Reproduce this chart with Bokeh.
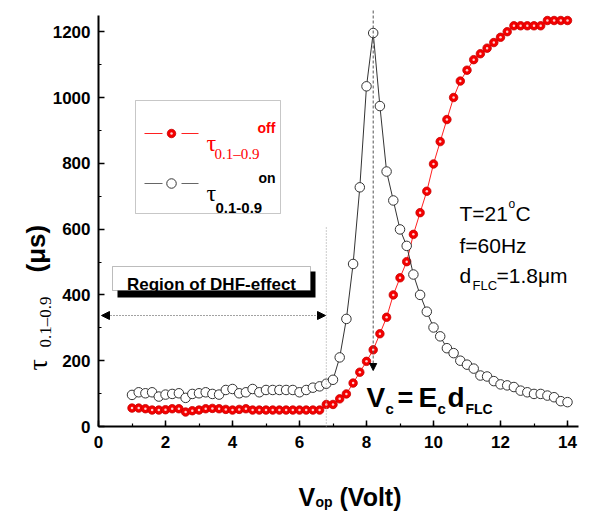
from math import pi
from bokeh.plotting import figure
from bokeh.models import (Label, BoxAnnotation, Arrow, NormalHead,
                          SingleIntervalTicker, Range1d)
from bokeh.embed import file_html
from bokeh.resources import INLINE

# ---------------- data ----------------
volt = [1.0, 1.2, 1.4, 1.6, 1.8, 2.0, 2.2, 2.4, 2.6, 2.8,
        3.0, 3.2, 3.4, 3.6, 3.8, 4.0, 4.2, 4.4, 4.6, 4.8,
        5.0, 5.2, 5.4, 5.6, 5.8, 6.0, 6.2, 6.4, 6.6, 6.8,
        7.0, 7.2, 7.4, 7.6, 7.8, 8.0, 8.2, 8.4, 8.6, 8.8,
        9.0, 9.2, 9.4, 9.6, 9.8, 10.0, 10.2, 10.4, 10.6, 10.8,
        11.0, 11.2, 11.4, 11.6, 11.8, 12.0, 12.2, 12.4, 12.6, 12.8,
        13.0, 13.2, 13.4, 13.6, 13.8, 14.0]

tau_off = [56, 56, 54, 50, 50, 51, 54, 54, 44, 48,
           50, 54, 55, 54, 52, 50, 52, 54, 50, 50,
           50, 50, 50, 50, 50, 50, 50, 50, 50, 67,
           67, 84, 99, 132, 165, 198, 233, 282, 332, 400,
           452, 501, 584, 650, 715, 798, 866, 933, 1000, 1050,
           1083, 1115, 1133, 1150, 1167, 1183, 1200, 1218, 1218, 1218,
           1218, 1218, 1234, 1234, 1234, 1234]

tau_on = [96, 104, 101, 104, 91, 97, 99, 101, 87, 99,
          101, 104, 99, 97, 111, 114, 101, 104, 114, 104,
          111, 111, 111, 111, 111, 104, 111, 118, 122, 130,
          142, 210, 327, 494, 727, 1034, 1196, 974, 775, 687,
          599, 549, 462, 400, 349, 301, 274, 238, 223, 200,
          188, 176, 155, 152, 138, 128, 125, 120, 109, 104,
          99, 99, 94, 89, 77, 74]

x_ticks_interval = 2
y_ticks_interval = 200
x_axis_end = 14.33
y_axis_end = 1250
v_critical = 8.2          # Vc marker
dhf_limit = 6.8           # end of DHF region

# ---------------- geometry (pixel <-> data) ----------------
W, H = 593, 514
OX, OY = 98, 426          # pixel position of data origin
PX_PER_X = 33.5
PX_PER_Y = 0.329

def X(px):
    return (px - OX) / PX_PER_X

def Y(py):
    return (OY - py) / PX_PER_Y

SANS = "Liberation Sans"
SERIF = "Liberation Serif"

p = figure(width=W, height=H, output_backend="svg", toolbar_location=None,
           x_range=Range1d(X(0), X(W)), y_range=Range1d(Y(H), Y(0)),
           min_border=0, min_border_left=0, min_border_right=0,
           min_border_top=0, min_border_bottom=0)
p.outline_line_color = None
p.grid.visible = False
p.background_fill_color = "white"
p.border_fill_color = "white"

p.xaxis.fixed_location = 0
p.yaxis.fixed_location = 0
p.xaxis.bounds = (0, x_axis_end)
p.yaxis.bounds = (0, y_axis_end)
p.xaxis.ticker = SingleIntervalTicker(interval=x_ticks_interval, num_minor_ticks=2)
p.yaxis.ticker = SingleIntervalTicker(interval=y_ticks_interval, num_minor_ticks=2)
for ax in (p.xaxis, p.yaxis):
    ax.axis_line_width = 2
    ax.axis_line_color = "black"
    ax.major_tick_in = 6
    ax.major_tick_out = 0
    ax.minor_tick_in = 3
    ax.minor_tick_out = 0
    ax.major_tick_line_width = 1.5
    ax.minor_tick_line_width = 1.2
    ax.major_tick_line_color = "black"
    ax.minor_tick_line_color = "black"
    ax.major_label_text_font = SANS
    ax.major_label_text_font_style = "bold"
    ax.major_label_text_font_size = "17px"
    ax.major_label_text_color = "black"
p.xaxis.major_label_standoff = 9
p.yaxis.major_label_standoff = 8

# ---------------- helpers ----------------
def txt(s, px, py, size, color="black", font=SANS, style="normal",
        align="left", baseline="alphabetic", angle=0):
    p.add_layout(Label(x=X(px), y=Y(py), text=s, text_font_size=f"{size}px",
                       text_color=color, text_font=font, text_font_style=style,
                       text_align=align, text_baseline=baseline, angle=angle))

# legend box (under glyphs)
p.add_layout(BoxAnnotation(left=X(135), right=X(280), top=Y(100), bottom=Y(213),
                           fill_color="white", fill_alpha=1, line_color="#444",
                           line_width=1, level="underlay"))

# ---------------- reference lines / arrows ----------------
p.add_layout(Arrow(end=None, x_start=dhf_limit, x_end=dhf_limit,
                   y_start=Y(227), y_end=0, line_color="#999",
                   line_width=1, line_dash="1 2"))
p.add_layout(Arrow(start=NormalHead(size=8, fill_color="black", line_color="black"),
                   end=NormalHead(size=8, fill_color="black", line_color="black"),
                   x_start=X(101), x_end=X(325), y_start=Y(315), y_end=Y(315),
                   line_color="#444", line_width=1, line_dash="1 2"))
p.add_layout(Arrow(end=NormalHead(size=7, fill_color="black", line_color="black"),
                   x_start=v_critical, x_end=v_critical, y_start=Y(10), y_end=Y(370),
                   line_color="#555", line_width=1, line_dash="3 2"))

# ---------------- series ----------------
p.line(volt, tau_off, line_color="#ff2020", line_width=1)
p.scatter(volt, tau_off, size=8.5, fill_color="#f40000", line_color="#c80000",
          line_width=0.8)
p.scatter(volt, tau_off, size=2.5, fill_color="#ffd0d0", line_color=None)

p.line(volt, tau_on, line_color="#333333", line_width=1)
p.scatter(volt, tau_on, size=9.5, fill_color="white", line_color="#333333",
          line_width=1)

# ---------------- legend ----------------
ly1, ly2 = Y(133), Y(183)
for (a, b) in ((144, 162), (181, 198)):
    p.add_layout(Arrow(end=None, x_start=X(a), x_end=X(b), y_start=ly1, y_end=ly1,
                       line_color="#ff2020", line_width=1))
    p.add_layout(Arrow(end=None, x_start=X(a), x_end=X(b), y_start=ly2, y_end=ly2,
                       line_color="#666666", line_width=1.2))
p.scatter([X(171)], [ly1], size=8.5, fill_color="#f40000", line_color="#c80000",
          line_width=0.8)
p.scatter([X(171)], [ly1], size=2.5, fill_color="#ffd0d0", line_color=None)
p.scatter([X(171)], [ly2], size=9.5, fill_color="white", line_color="#333333",
          line_width=1)

txt("τ", 206, 142, 24, color="#ff0000", font=SERIF)
txt("0.1–0.9", 214, 153, 15, color="#ff0000", font=SERIF)
txt("off", 257, 127, 14, color="#ff0000", style="bold")
txt("τ", 206, 192, 24, font=SERIF)
txt("0.1-0.9", 215, 207, 15, style="bold")
txt("on", 258, 177, 14, style="bold")

# ---------------- DHF region box ----------------
p.add_layout(BoxAnnotation(left=X(117), right=X(315), top=Y(271), bottom=Y(297),
                           fill_color="black", fill_alpha=1, line_color=None))
p.add_layout(BoxAnnotation(left=X(112), right=X(310), top=Y(266), bottom=Y(290),
                           fill_color="white", fill_alpha=1, line_color="#222",
                           line_width=1))
txt("Region of DHF-effect", 211, 284, 17, style="bold", align="center")

# ---------------- conditions ----------------
txt("T=21", 459, 213, 21)
txt("o", 508, 203, 12)
txt("C", 515, 213, 21)
txt("f=60Hz", 459, 245, 21)
txt("d", 459, 275, 21)
txt("FLC", 472, 285, 13)
txt("=1.8μm", 496, 275, 21)

# ---------------- Vc = Ec dFLC ----------------
txt("V", 366, 397, 28, style="bold")
txt("c", 385, 408, 15, style="bold")
txt("=", 397, 397, 27, style="bold")
txt("E", 418, 397, 28, style="bold")
txt("c", 437, 408, 15, style="bold")
txt("d", 447, 397, 28, style="bold")
txt("FLC", 465, 408, 14, style="bold")

# ---------------- axis titles ----------------
txt("V", 298, 496, 25, style="bold")
txt("op", 315, 501, 14, style="bold")
txt("(Volt)", 339, 496, 25, style="bold")

txt("τ", 37, 370, 28, font=SERIF, angle=pi / 2)
txt("0.1–0.9", 45, 347, 17, font=SERIF, angle=pi / 2)
txt("(μs)", 35, 272, 26, style="bold", angle=pi / 2)

open("out.html", "w").write(file_html(p, INLINE))
